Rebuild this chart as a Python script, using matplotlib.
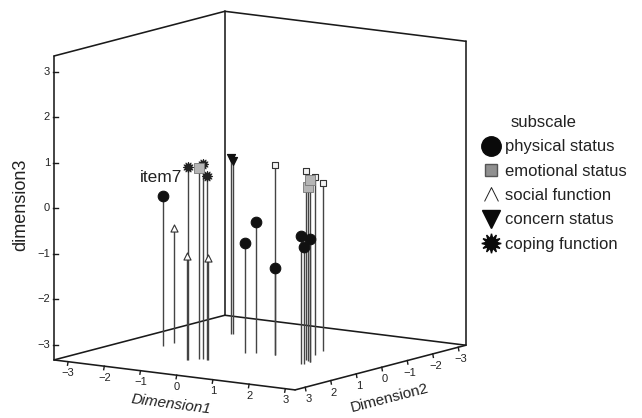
import matplotlib
matplotlib.use("Agg")
import matplotlib.pyplot as plt
from matplotlib.lines import Line2D
from matplotlib.path import Path
import numpy as np

plt.rcParams['font.family'] = ['Liberation Sans', 'DejaVu Sans']
plt.rcParams['axes.unicode_minus'] = True

# ---- data: (Dimension1, Dimension2, dimension3) per subscale ----
physical_x = [-2.36, -0.32, -0.11, 0.38, 1.52, 1.57, 1.55]
physical_y = [0.60, 0.27, 0.13, 0.10, 0.68, 0.65, 0.37]
physical_z = [-0.03, -0.91, -0.45, -1.42, -0.52, -0.76, -0.63]

emotional_x = [0.38, 1.33, 1.14, 1.00, 1.44, 1.55, -0.74]
emotional_y = [0.10, 0.21, -0.41, -0.92, 0.29, 0.37, 1.46]
emotional_z = [0.85, 0.82, 0.58, 0.36, 0.49, 0.67, 0.87]

social_x = [-2.36, -0.90, -0.51]
social_y = [0.15, 1.72, 1.45]
social_z = [-0.80, -1.04, -1.09]

concern_x = [-1.94, -1.90]
concern_y = [-1.48, -1.51]
concern_z = [0.54, 0.47]

coping_x = [-0.88, -0.67, -0.53]
coping_y = [1.70, 1.41, 1.46]
coping_z = [0.91, 0.96, 0.71]

ticks = [-3, -2, -1, 0, 1, 2, 3]
x_range = (-3.39, 3.27)
y_range = (-3.30, 3.40)
z_range = (-3.33, 3.35)

# ---- oblique projection of the 3D box on the page ----
U0, V0 = 263.4, 201.0
def proj(x, y, z):
    x, y, z = np.asarray(x, float), np.asarray(y, float), np.asarray(z, float)
    return U0 + 36.2 * x - 25.5 * y, V0 + 4.5 * x + 6.67 * y - 45.5 * z

fig = plt.figure(figsize=(6.42, 4.18), dpi=100)
ax = fig.add_axes([0, 0, 1, 1])
ax.set_xlim(0, 642)
ax.set_ylim(418, 0)
ax.axis('off')

x0, x1 = x_range
y0, y1 = y_range
z0, z1 = z_range
edges = [
    ((x0, y1, z0), (x1, y1, z0)), ((x1, y1, z0), (x1, y0, z0)),
    ((x1, y0, z0), (x0, y0, z0)), ((x0, y0, z0), (x0, y1, z0)),
    ((x0, y1, z0), (x0, y1, z1)), ((x0, y0, z0), (x0, y0, z1)),
    ((x1, y0, z0), (x1, y0, z1)), ((x0, y1, z1), (x0, y0, z1)),
    ((x0, y0, z1), (x1, y0, z1)),
]
for a, b in edges:
    ua, va = proj(*a)
    ub, vb = proj(*b)
    ax.plot([ua, ub], [va, vb], color='#1a1a1a', lw=1.15, solid_capstyle='round', zorder=2)

tick_kw = dict(fontsize=8, color='#222222', ha='center', va='center')
for t in ticks:
    # dimension3 ticks on the left edge
    u, v = proj(x0, y1, t)
    ax.plot([u - 1, u + 4], [v, v], color='#1a1a1a', lw=1, zorder=2)
    ax.text(u - 4, v, f"\u2212{abs(t)}" if t < 0 else str(t), fontsize=8, color='#222222', ha='right', va='center')
    # Dimension1 ticks on the front-left floor edge
    u, v = proj(t, y1, z0)
    ax.plot([u, u - 0.6], [v, v + 3.5], color='#1a1a1a', lw=1, zorder=2)
    ax.text(u, v + 11.5, f"\u2212{abs(t)}" if t < 0 else str(t), **tick_kw)
    # Dimension2 ticks on the front-right floor edge
    u, v = proj(x1, t, z0)
    ax.plot([u, u + 0.6], [v, v + 3.5], color='#1a1a1a', lw=1, zorder=2)
    ax.text(u + 3, v + 12, f"\u2212{abs(t)}" if t < 0 else str(t), **tick_kw)

ax.text(21, 205, 'dimension3', rotation=90, fontsize=13, color='#222222', ha='center', va='center')
ax.text(171, 404.5, 'Dimension1', rotation=-7.5, fontsize=11, color='#222222', ha='center', va='center', style='italic')
ax.text(390, 398, 'Dimension2', rotation=14.5, fontsize=11, color='#222222', ha='center', va='center')

series = [
    (physical_x, physical_y, physical_z, 'o', 58, '#111111', '#111111'),
    (emotional_x, emotional_y, emotional_z, 's', 24, '#f4f4f4', '#333333'),
    (social_x, social_y, social_z, '^', 26, 'white', '#333333'),
    (concern_x, concern_y, concern_z, 'v', 34, '#111111', '#111111'),
    (coping_x, coping_y, coping_z, (12, 1, 0), 52, '#222222', '#222222'),
]
for sx, sy, sz, marker, size, face, edge in series:
    ub, vb = proj(sx, sy, [z0] * len(sx))
    ut, vt = proj(sx, sy, sz)
    ax.vlines(ut, vt, vb, color='#444444', lw=1.0, zorder=3)
    ax.scatter(ut, vt, marker=marker, s=size, facecolor=face, edgecolor=edge, linewidth=0.8, zorder=4)

# the shaded emotional markers in the two clusters
shade_idx = [4, 5, 6]
us, vs = proj(np.take(emotional_x, shade_idx), np.take(emotional_y, shade_idx), np.take(emotional_z, shade_idx))
ax.scatter(us, vs, marker='s', s=50, facecolor='#b5b5b5', edgecolor='#777777', linewidth=0.6, zorder=5)

ux, vx = proj(physical_x[0], physical_y[0], physical_z[0])
ax.annotate('item7', (ux, vx), xytext=(-1.5, 13), textcoords='offset points', fontsize=12.5,
            color='#222222', ha='center', va='center')

open_triangle = Path([(-1, -1), (0, 1), (1, -1)], [Path.MOVETO, Path.LINETO, Path.LINETO])
handles = [
    Line2D([], [], ls='', marker='o', ms=14, mfc='#0a0a0a', mec='#0a0a0a', label='physical status'),
    Line2D([], [], ls='', marker='s', ms=9, mfc='#909090', mec='#555555', label='emotional status'),
    Line2D([], [], ls='', marker=open_triangle, ms=10, mfc='none', mec='#222222', mew=0.7, label='social function'),
    Line2D([], [], ls='', marker='v', ms=13, mfc='#0a0a0a', mec='#0a0a0a', label='concern status'),
    Line2D([], [], ls='', marker=(12, 1, 0), ms=14, mfc='#0a0a0a', mec='#0a0a0a', label='coping function'),
]
leg = ax.legend(handles=handles, title='subscale', frameon=False, fontsize=12, title_fontsize=12,
                loc='upper left', bbox_to_anchor=(479 / 642, 1 - 115 / 418), borderpad=0, borderaxespad=0,
                labelspacing=0.56, handletextpad=0.1, handlelength=1.45)
for txt in leg.get_texts():
    txt.set_color('#222222')
leg.get_title().set_color('#222222')
leg.get_title().set_position((-9, 0))

fig.savefig('out.png', dpi=100)
